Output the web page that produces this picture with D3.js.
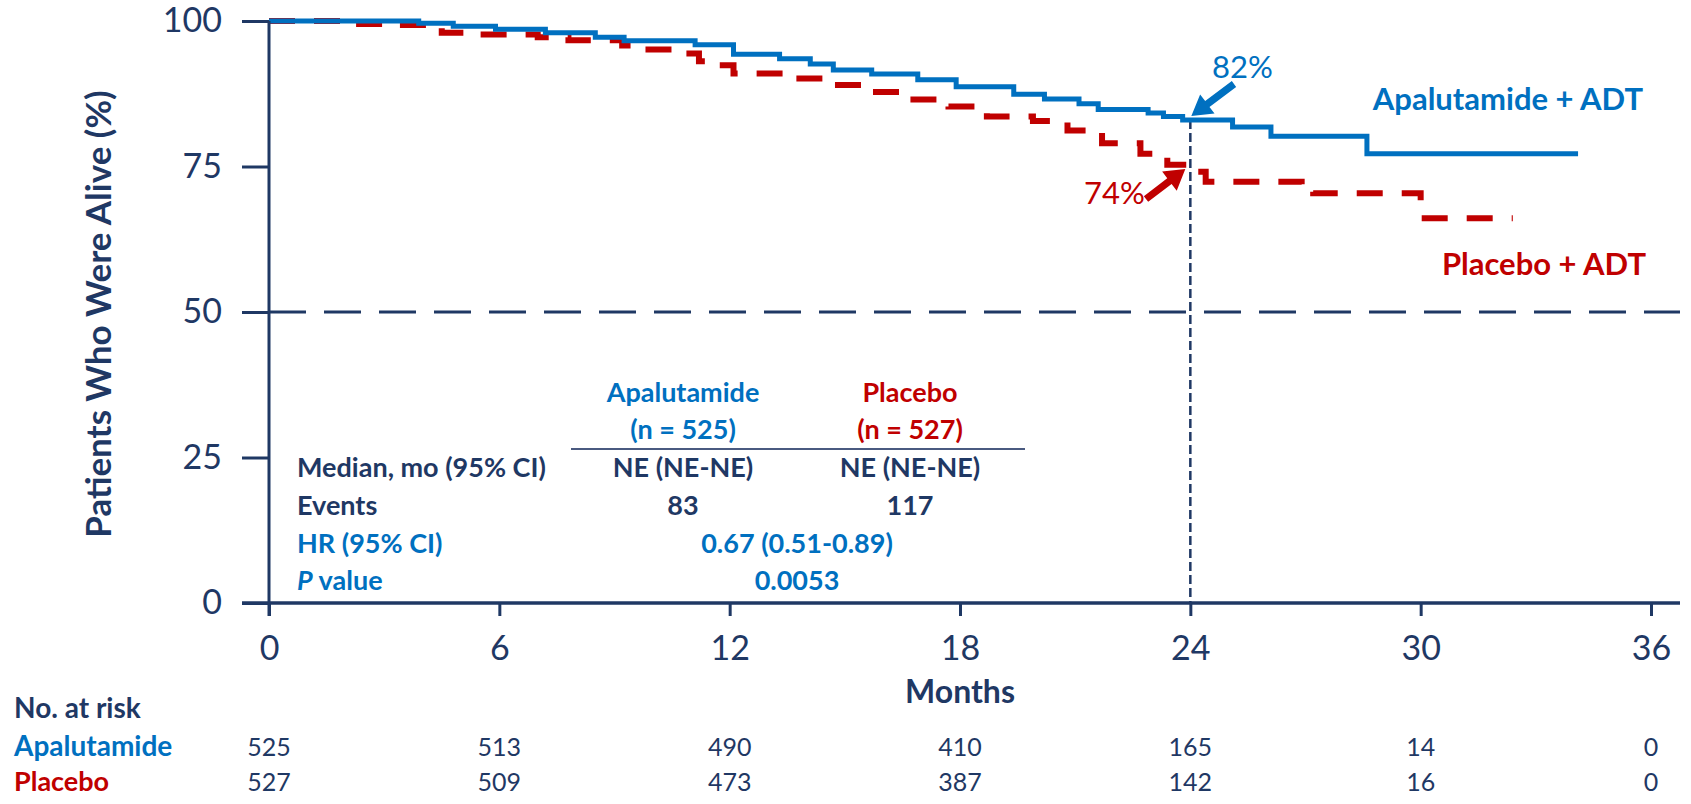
<!DOCTYPE html>
<html>
<head>
<meta charset="utf-8">
<script src="https://cdn.jsdelivr.net/npm/d3@7"></script>
<style>
  html, body { margin: 0; padding: 0; background: #fff; }
  svg { display: block; font-family: Lato, "Open Sans", sans-serif; }
</style>
</head>
<body>
<svg id="chart" width="1691" height="804"></svg>
<script>
// ---------------- data ----------------
const monthTicks = [0, 6, 12, 18, 24, 30, 36];
const yTicks = [0, 25, 50, 75, 100];

// Kaplan-Meier step points (month, % alive)
const apaMonths = [0, 3.9, 4.8, 5.9, 7.2, 8.5, 9.25, 11.1, 12.1, 13.3, 14.1, 14.7, 15.7, 16.9, 17.9, 19.4, 20.2, 21.1, 21.6, 22.9, 23.3, 23.8, 25.1, 26.1, 28.6, 34.1];
const apaSurv   = [100, 99.6, 99.1, 98.6, 98.0, 97.2, 96.6, 95.9, 94.3, 93.5, 92.6, 91.6, 90.9, 89.9, 88.7, 87.4, 86.6, 85.8, 84.8, 84.2, 83.6, 83.0, 81.8, 80.2, 77.2, 77.2];

const pboMonths = [0, 2.0, 3.0, 4.5, 5.3, 7.0, 7.8, 9.2, 9.5, 10.5, 11.2, 11.5, 12.1, 13.3, 14.7, 15.6, 16.6, 17.7, 18.7, 19.9, 20.8, 21.7, 22.7, 23.4, 24.1, 24.4, 26.9, 27.2, 30.0, 32.4];
const pboSurv   = [100, 99.5, 99.3, 98.0, 97.7, 97.2, 96.7, 95.8, 95.1, 94.4, 93.1, 92.4, 91.0, 90.1, 89.0, 87.8, 86.5, 85.3, 83.6, 82.8, 81.2, 79.0, 77.2, 75.3, 74.1, 72.4, 71.5, 70.4, 66.1, 66.1];

const landmarkMonth = 24;
const apaLandmark = "82%";
const pboLandmark = "74%";

const seriesNames = ["Apalutamide + ADT", "Placebo + ADT"];

// No. at risk
const riskGroups = ["Apalutamide", "Placebo"];
const apaRisk = [525, 513, 490, 410, 165, 14, 0];
const pboRisk = [527, 509, 473, 387, 142, 16, 0];

// summary table
const tableHeads = ["Apalutamide", "Placebo"];
const tableN = ["(n = 525)", "(n = 527)"];
const medianRow = ["Median, mo (95% CI)", "NE (NE-NE)", "NE (NE-NE)"];
const eventsRow = ["Events", "83", "117"];
const hrRow = ["HR (95% CI)", "0.67 (0.51-0.89)"];
const pRow = ["value", "0.0053"];

// ---------------- style ----------------
const NAVY = "#1F3864";
const BLUE = "#0070C0";
const RED = "#C00000";

const svg = d3.select("#chart");

const x = d3.scaleLinear().domain([0, 36]).range([269, 1651]);
const y = d3.scaleLinear().domain([0, 100]).range([603, 21]);

// ---------------- reference lines ----------------
svg.append("line")
  .attr("x1", x(0)).attr("x2", 1680)
  .attr("y1", y(50)).attr("y2", y(50))
  .attr("stroke", NAVY).attr("stroke-width", 3)
  .attr("stroke-dasharray", "37,18");

svg.append("line")
  .attr("x1", x(landmarkMonth)).attr("x2", x(landmarkMonth))
  .attr("y1", y(83)).attr("y2", y(0))
  .attr("stroke", NAVY).attr("stroke-width", 2.5)
  .attr("stroke-dasharray", "9,4");

// ---------------- curves ----------------
const stepLine = d3.line().x(d => x(d[0])).y(d => y(d[1])).curve(d3.curveStepAfter);

svg.append("path")
  .datum(pboMonths.map((m, i) => [m, pboSurv[i]]))
  .attr("d", stepLine)
  .attr("fill", "none").attr("stroke", RED).attr("stroke-width", 6)
  .attr("stroke-dasharray", "26,19");

svg.append("path")
  .datum(apaMonths.map((m, i) => [m, apaSurv[i]]))
  .attr("d", stepLine)
  .attr("fill", "none").attr("stroke", BLUE).attr("stroke-width", 5);

// ---------------- axes ----------------
const yAxis = d3.axisLeft(y).tickValues(yTicks).tickSize(27).tickSizeOuter(0).tickPadding(20);
const gy = svg.append("g").attr("transform", `translate(${x(0)},0)`).call(yAxis);
gy.select(".domain").remove();
gy.selectAll(".tick line").attr("stroke", NAVY).attr("stroke-width", 3);
gy.selectAll(".tick text").attr("fill", NAVY).attr("font-size", 34).attr("font-family", "Lato, sans-serif");

const xAxis = d3.axisBottom(x).tickValues(monthTicks).tickSize(13).tickSizeOuter(0).tickPadding(20);
const gx = svg.append("g").attr("transform", `translate(0,${y(0)})`).call(xAxis);
gx.select(".domain").remove();
gx.selectAll(".tick line").attr("stroke", NAVY).attr("stroke-width", 3);
gx.selectAll(".tick text").attr("fill", NAVY).attr("font-size", 34).attr("font-family", "Lato, sans-serif");

// axis lines
svg.append("line").attr("x1", x(0)).attr("x2", x(0)).attr("y1", y(100)).attr("y2", y(0) + 13)
  .attr("stroke", NAVY).attr("stroke-width", 3);
svg.append("line").attr("x1", x(0) - 27).attr("x2", 1680).attr("y1", y(0)).attr("y2", y(0))
  .attr("stroke", NAVY).attr("stroke-width", 3.5);

// axis titles
svg.append("text")
  .attr("transform", `translate(111,${(83 + 545) / 2}) rotate(-90)`)
  .attr("text-anchor", "middle")
  .attr("fill", NAVY).attr("font-size", 35).attr("font-weight", 700)
  .text("Patients Who Were Alive (%)");

svg.append("text")
  .attr("x", x(18)).attr("y", 703)
  .attr("text-anchor", "middle")
  .attr("fill", NAVY).attr("font-size", 32).attr("font-weight", 700)
  .text("Months");

// ---------------- series labels ----------------
svg.append("text").attr("x", 1643).attr("y", 110).attr("text-anchor", "end")
  .attr("fill", BLUE).attr("font-size", 31).attr("font-weight", 700).text(seriesNames[0]);
svg.append("text").attr("x", 1646).attr("y", 275).attr("text-anchor", "end")
  .attr("fill", RED).attr("font-size", 31).attr("font-weight", 700).text(seriesNames[1]);

// landmark annotations
svg.append("text").attr("x", 1212).attr("y", 78)
  .attr("fill", BLUE).attr("font-size", 31).text(apaLandmark);
svg.append("text").attr("x", 1084).attr("y", 204)
  .attr("fill", RED).attr("font-size", 31).text(pboLandmark);

function arrow(x1, y1, x2, y2, color) {
  const dx = x2 - x1, dy = y2 - y1;
  const L = Math.hypot(dx, dy);
  const ux = dx / L, uy = dy / L, px = -uy, py = ux;
  const hl = 20, hw = 12, sw = 3.6;
  const bx = x2 - ux * hl, by = y2 - uy * hl;
  const pts = [
    [x1 + px * sw, y1 + py * sw],
    [bx + px * sw, by + py * sw],
    [bx + px * hw, by + py * hw],
    [x2, y2],
    [bx - px * hw, by - py * hw],
    [bx - px * sw, by - py * sw],
    [x1 - px * sw, y1 - py * sw]
  ];
  svg.append("polygon").attr("points", pts.map(p => p.join(",")).join(" ")).attr("fill", color);
}
arrow(1234, 84, x(landmarkMonth) + 1, 116, BLUE);
arrow(1146, 199, x(landmarkMonth) - 5, 169, RED);

// ---------------- summary table ----------------
const colX = [297, 683, 910];
const hrX = 797;
const tfs = 27;

svg.append("text").attr("x", colX[1]).attr("y", 402).attr("text-anchor", "middle")
  .attr("fill", BLUE).attr("font-size", 27).attr("font-weight", 700).text(tableHeads[0]);
svg.append("text").attr("x", colX[2]).attr("y", 402).attr("text-anchor", "middle")
  .attr("fill", RED).attr("font-size", 27).attr("font-weight", 700).text(tableHeads[1]);
svg.append("text").attr("x", colX[1]).attr("y", 439).attr("text-anchor", "middle")
  .attr("fill", BLUE).attr("font-size", 27).attr("font-weight", 700).text(tableN[0]);
svg.append("text").attr("x", colX[2]).attr("y", 439).attr("text-anchor", "middle")
  .attr("fill", RED).attr("font-size", 27).attr("font-weight", 700).text(tableN[1]);

svg.append("line").attr("x1", 571).attr("x2", 1025).attr("y1", 449).attr("y2", 449)
  .attr("stroke", "#4A5A80").attr("stroke-width", 2);

function row(yb, cells, color, anchors) {
  cells.forEach((c, i) => {
    svg.append("text").attr("x", anchors[i]).attr("y", yb)
      .attr("text-anchor", i === 0 ? "start" : "middle")
      .attr("fill", color).attr("font-size", tfs).attr("font-weight", 700).text(c);
  });
}
row(477, medianRow, NAVY, colX);
row(515, eventsRow, NAVY, colX);
row(553, hrRow, BLUE, [colX[0], hrX]);

const pt = svg.append("text").attr("x", colX[0]).attr("y", 590)
  .attr("fill", BLUE).attr("font-size", tfs).attr("font-weight", 700);
pt.append("tspan").attr("font-style", "italic").text("P");
pt.append("tspan").text(" " + pRow[0]);
svg.append("text").attr("x", hrX).attr("y", 590).attr("text-anchor", "middle")
  .attr("fill", BLUE).attr("font-size", tfs).attr("font-weight", 700).text(pRow[1]);

// ---------------- number at risk ----------------
svg.append("text").attr("x", 14).attr("y", 718)
  .attr("fill", NAVY).attr("font-size", 28).attr("font-weight", 700).text("No. at risk");
svg.append("text").attr("x", 14).attr("y", 756)
  .attr("fill", BLUE).attr("font-size", 28).attr("font-weight", 700).text(riskGroups[0]);
svg.append("text").attr("x", 14).attr("y", 791)
  .attr("fill", RED).attr("font-size", 27).attr("font-weight", 700).text(riskGroups[1]);

svg.selectAll(".riskA").data(apaRisk).enter().append("text")
  .attr("x", (d, i) => x(monthTicks[i])).attr("y", 756).attr("text-anchor", "middle")
  .attr("fill", NAVY).attr("font-size", 25).text(d => d);
svg.selectAll(".riskP").data(pboRisk).enter().append("text")
  .attr("x", (d, i) => x(monthTicks[i])).attr("y", 791).attr("text-anchor", "middle")
  .attr("fill", NAVY).attr("font-size", 25).text(d => d);
</script>
</body>
</html>
